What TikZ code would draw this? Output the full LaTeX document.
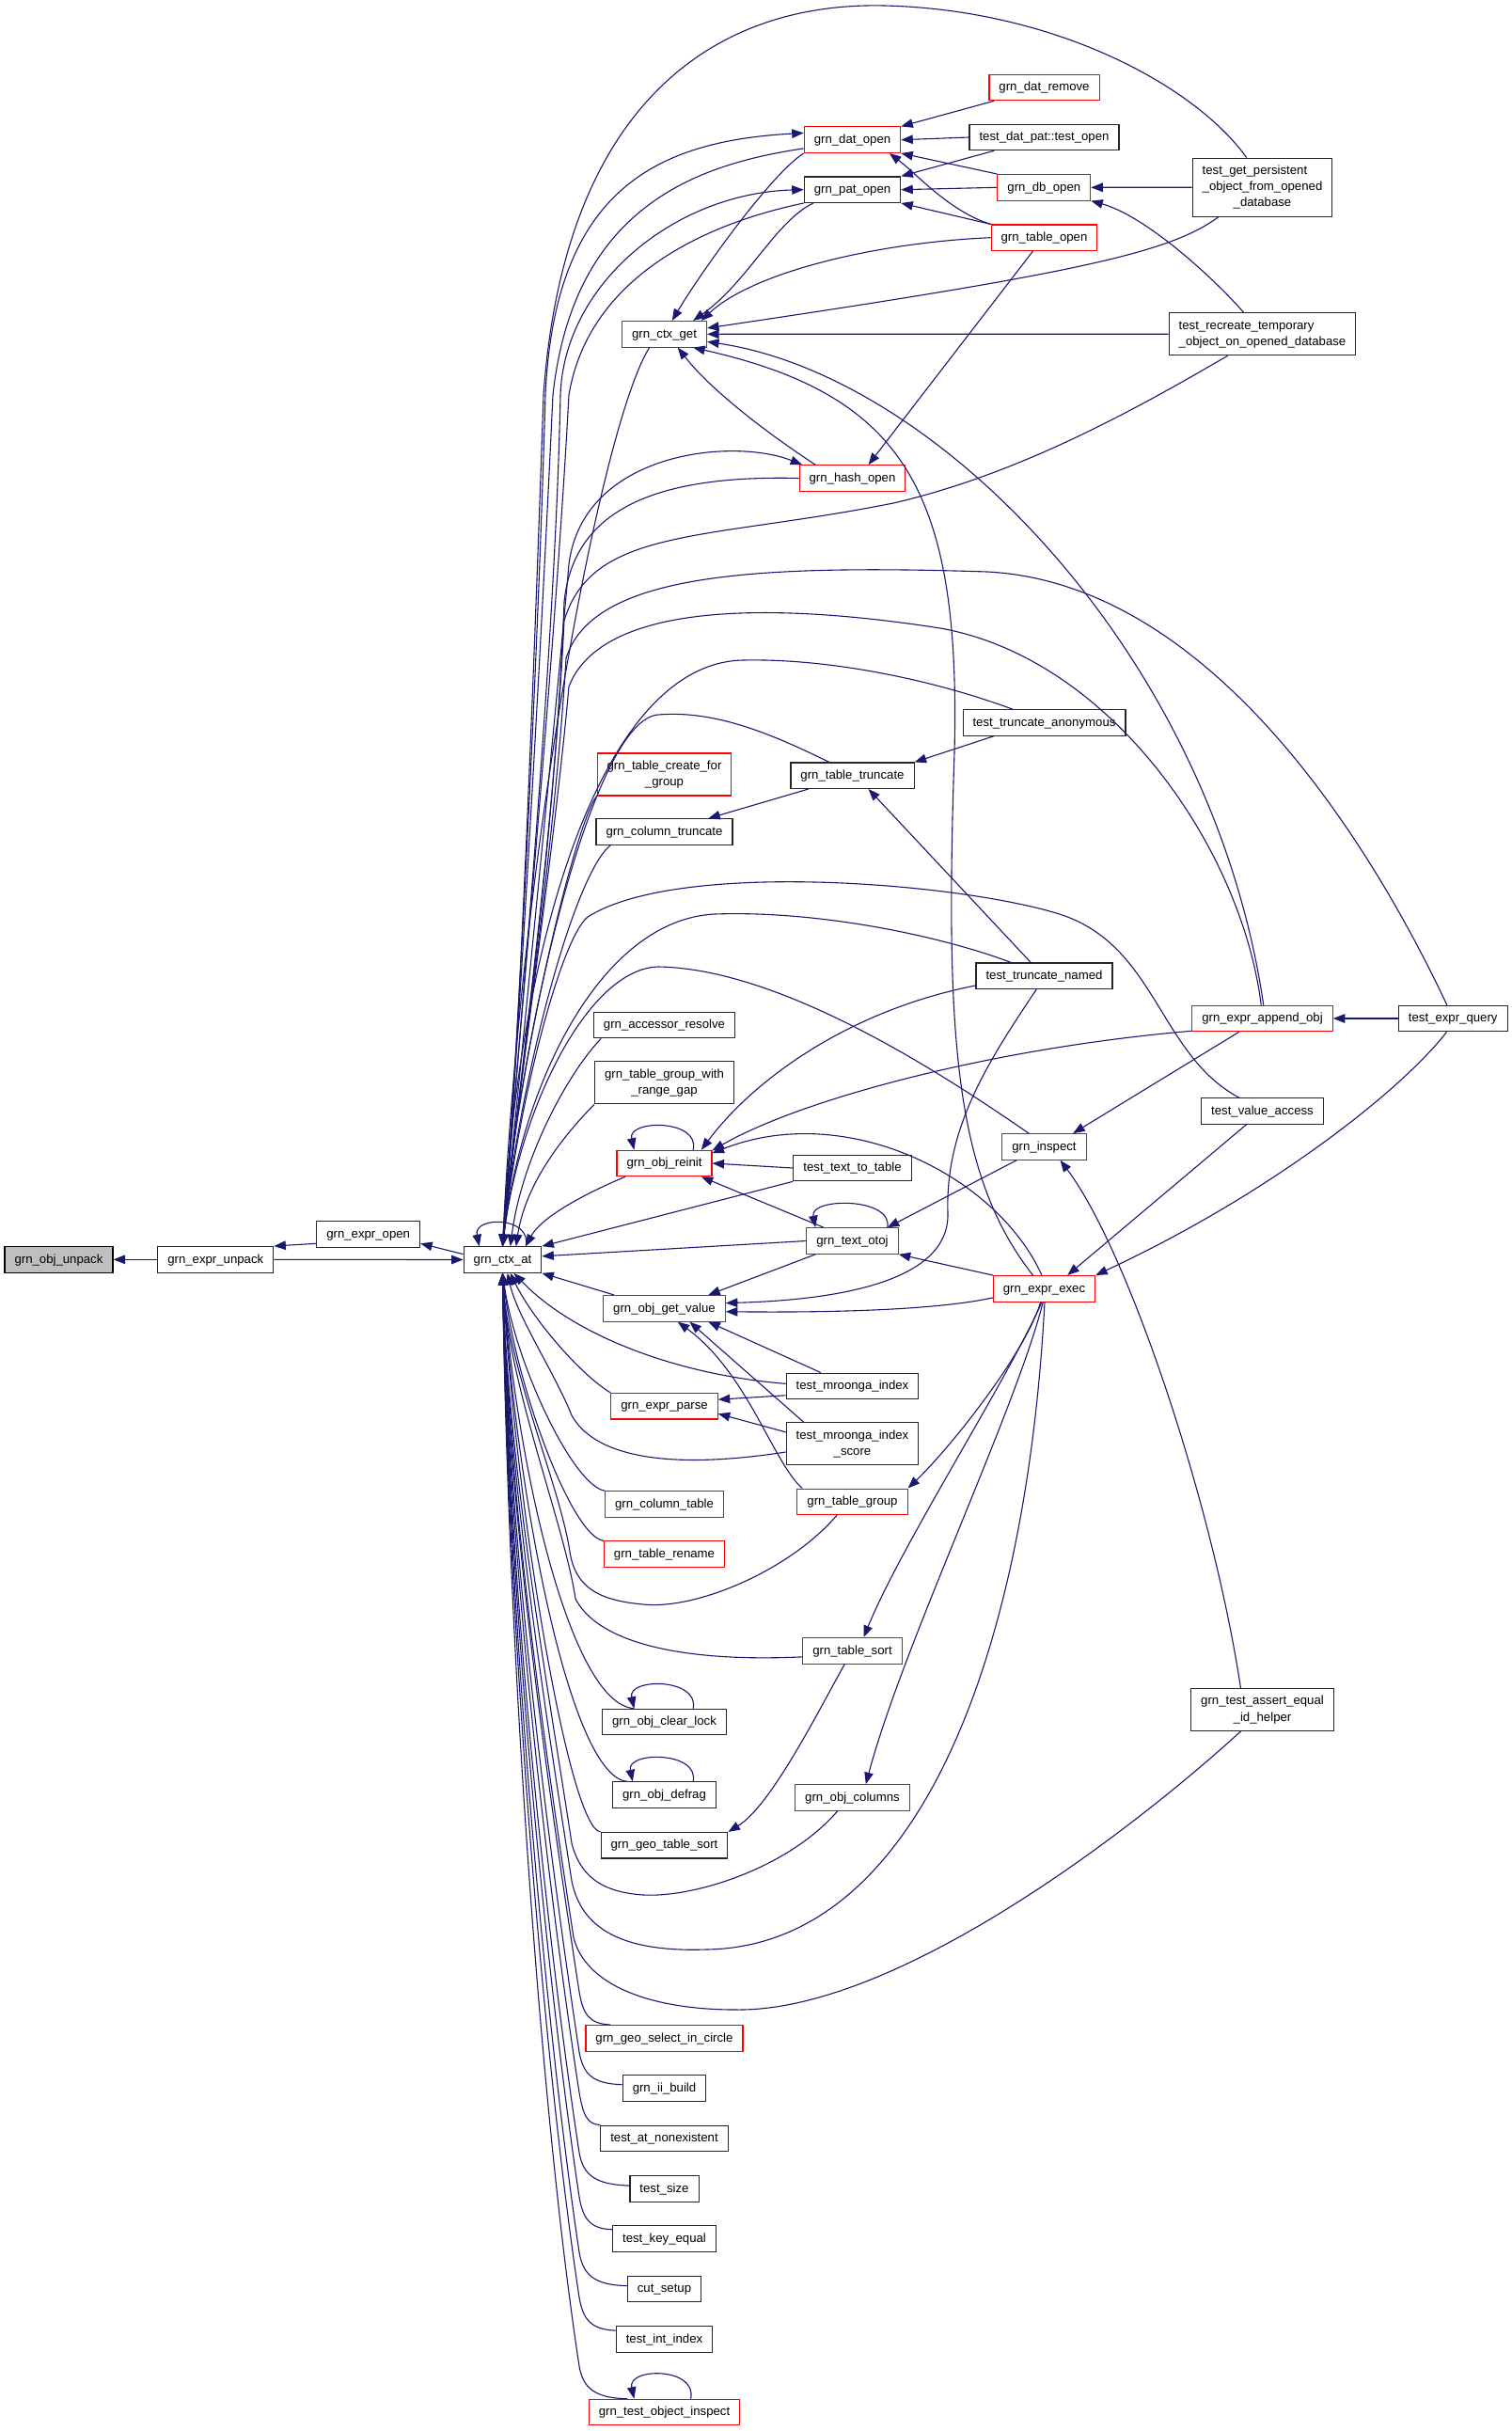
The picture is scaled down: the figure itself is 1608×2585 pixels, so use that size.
\documentclass[tikz,border=0pt]{standalone}
\usepackage{fontspec}
\setmainfont{Liberation Sans}
\usetikzlibrary{arrows.meta}
\definecolor{edgeblue}{RGB}{25,25,112}

\begin{document}
\begin{tikzpicture}[x=1pt, y=-1pt, color=edgeblue, line width=1.1pt,
    >={Triangle[length=12.5pt, width=9.5pt]},
    fn/.style={draw=black!85, fill=white, text=black, line width=1.1pt, inner xsep=10.5pt, inner ysep=0pt, minimum height=27.5pt, text height=10.5pt, text depth=3pt, font=\fontsize{13.2}{17.3}\selectfont},
    fnred/.style={fn, draw=red},
    fnm/.style={draw=black!85, fill=white, text=black, line width=1.1pt, inner xsep=10.5pt, inner ysep=5.2pt, font=\fontsize{13.2}{17.3}\selectfont},
    fnmred/.style={fnm, draw=red},
    fnroot/.style={fn, draw=black, fill=black!25}]
    \useasboundingbox (0,0) rectangle (1608,2585);
    \fill[white] (0,0) rectangle (1608,2585);

    \node[fnroot] (unpack) at (62.5, 1339.3) {grn\_obj\_unpack};
    \node[fn] (eunpack) at (229.3, 1339.3) {grn\_expr\_unpack};
    \node[fn] (eopen) at (391.7, 1312.5) {grn\_expr\_open};
    \node[fn] (ctxat) at (534.5, 1339.5) {grn\_ctx\_at};

    \node[fnred] (ctxget) at (706.5, 355.3) {grn\_ctx\_get};
    \node[fnmred] (crgroup) at (706.5, 823.5) {\begin{tabular}{@{}l@{}}grn\_table\_create\_for\\\multicolumn{1}{@{}c@{}}{\_group}\end{tabular}};
    \node[fn] (coltrunc) at (706.5, 884.6) {grn\_column\_truncate};
    \node[fn] (accres) at (706.5, 1090) {grn\_accessor\_resolve};
    \node[fnm] (grpgap) at (706.5, 1151.3) {\begin{tabular}{@{}l@{}}grn\_table\_group\_with\\\multicolumn{1}{@{}c@{}}{\_range\_gap}\end{tabular}};
    \node[fnred] (objreinit) at (706.5, 1237) {grn\_obj\_reinit};
    \node[fnred] (getvalue) at (706.5, 1391.3) {grn\_obj\_get\_value};
    \node[fnred] (exprparse) at (706.5, 1495.2) {grn\_expr\_parse};
    \node[fnred] (coltable) at (706.5, 1599.4) {grn\_column\_table};
    \node[fnred] (tblrename) at (706.5, 1652.6) {grn\_table\_rename};
    \node[fn] (clearlock) at (706.5, 1831) {grn\_obj\_clear\_lock};
    \node[fn] (defrag) at (706.5, 1908.6) {grn\_obj\_defrag};
    \node[fn] (geosort) at (706.5, 1962.2) {grn\_geo\_table\_sort};
    \node[fnred] (geocircle) at (706.5, 2167.3) {grn\_geo\_select\_in\_circle};
    \node[fn] (iibuild) at (706.5, 2220.5) {grn\_ii\_build};
    \node[fn] (atnonex) at (706.5, 2273.8) {test\_at\_nonexistent};
    \node[fn] (tsize) at (706.5, 2327.3) {test\_size};
    \node[fn] (keyequal) at (706.5, 2380.5) {test\_key\_equal};
    \node[fn] (cutsetup) at (706.5, 2434) {cut\_setup};
    \node[fn] (intindex) at (706.5, 2487.3) {test\_int\_index};
    \node[fnred] (objinspect) at (706.5, 2565) {grn\_test\_object\_inspect};

    \node[fnred] (datopen) at (906.5, 148.7) {grn\_dat\_open};
    \node[fn] (patopen) at (906.5, 201.7) {grn\_pat\_open};
    \node[fnred] (hashopen) at (906.5, 508.5) {grn\_hash\_open};
    \node[fn] (tbltrunc) at (906.5, 824.7) {grn\_table\_truncate};
    \node[fn] (txt2tbl) at (906.5, 1242) {test\_text\_to\_table};
    \node[fnred] (textotoj) at (906.5, 1319.5) {grn\_text\_otoj};
    \node[fn] (mindex) at (906.5, 1473.8) {test\_mroonga\_index};
    \node[fnm] (mscore) at (906.5, 1535.3) {\begin{tabular}{@{}l@{}}test\_mroonga\_index\\\multicolumn{1}{@{}c@{}}{\_score}\end{tabular}};
    \node[fnred] (tblgroup) at (906.5, 1596.8) {grn\_table\_group};
    \node[fnred] (tblsort) at (906.5, 1755.3) {grn\_table\_sort};
    \node[fnred] (objcolumns) at (906.5, 1911.5) {grn\_obj\_columns};

    \node[fnred] (datremove) at (1110.5, 93) {grn\_dat\_remove};
    \node[fn] (dpopen) at (1110.5, 146) {test\_dat\_pat::test\_open};
    \node[fnred] (dbopen) at (1110.3, 199.3) {grn\_db\_open};
    \node[fnred] (tblopen) at (1110.5, 252.7) {grn\_table\_open};
    \node[fn] (trunanon) at (1110.5, 768.4) {test\_truncate\_anonymous};
    \node[fn] (trunnamed) at (1110.5, 1037.7) {test\_truncate\_named};
    \node[fnred] (inspect) at (1110.5, 1219.4) {grn\_inspect};
    \node[fnred] (exprexec) at (1110.5, 1370.3) {grn\_expr\_exec};

    \node[fnm] (getpers) at (1342.5, 199.2) {\begin{tabular}{@{}l@{}}test\_get\_persistent\\\_object\_from\_opened\\\multicolumn{1}{@{}c@{}}{\_database}\end{tabular}};
    \node[fnm] (recreate) at (1342.5, 355.2) {\begin{tabular}{@{}l@{}}test\_recreate\_temporary\\\multicolumn{1}{@{}c@{}}{\_object\_on\_opened\_database}\end{tabular}};
    \node[fnred] (appendobj) at (1342.5, 1083) {grn\_expr\_append\_obj};
    \node[fn] (valaccess) at (1342.5, 1181.5) {test\_value\_access};
    \node[fnm] (helper) at (1342.5, 1818) {\begin{tabular}{@{}l@{}}grn\_test\_assert\_equal\\\multicolumn{1}{@{}c@{}}{\_id\_helper}\end{tabular}};
    \node[fn] (exprquery) at (1545.2, 1083) {test\_expr\_query};

    \draw[->] (eunpack) -- (unpack);
    \draw[->] (eopen.190) -- (eunpack.north east);
    \draw[->] (ctxat.172) -- (eopen.-10);
    \draw[->] (eunpack) -- (ctxat);
    \draw[->] (ctxat.30) .. controls (566,1293) and (503,1293) .. (ctxat.150);

    \draw[->] (getpers.118) .. controls (1270,90) and (1120,10) .. (940,6) .. controls (760,2) and (600,110) .. (578,420) .. controls (565,800) and (550,1150) .. (ctxat.north);
    \draw[->] (ctxat.north) .. controls (552,1100) and (572,700) .. (580,420) .. controls (590,200) and (700,150) .. (datopen.172);
    \draw[->] (datopen.190) .. controls (740,175) and (610,220) .. (588,420) .. controls (575,700) and (552,1100) .. (ctxat.north);
    \draw[->] (ctxat.north) .. controls (552,1100) and (590,700) .. (596,420) .. controls (600,300) and (720,205) .. (patopen.west);
    \draw[->] (patopen.south west) .. controls (740,240) and (625,300) .. (605,420) .. controls (590,700) and (552,1100) .. (ctxat.north);
    \draw[->] (ctxget.-138) .. controls (640,450) and (555,900) .. (ctxat.north);
    \draw[->] (hashopen.west) .. controls (700,505) and (610,540) .. (600,640) .. controls (590,900) and (552,1150) .. (ctxat.north);
    \draw[->] (ctxat.north) .. controls (552,1150) and (592,750) .. (605,600) .. controls (620,480) and (780,465) .. (hashopen.165);
    \draw[->] (recreate.-148) .. controls (1200,440) and (1080,505) .. (950,535) .. controls (750,575) and (630,560) .. (600,660) .. controls (588,900) and (552,1150) .. (ctxat.north);
    \draw[->] (exprquery.114) .. controls (1450,880) and (1280,620) .. (1050,608) .. controls (800,600) and (630,610) .. (602,700) .. controls (590,900) and (552,1150) .. (ctxat.north);
    \draw[->] (appendobj.95) .. controls (1320,900) and (1180,700) .. (1000,668) .. controls (820,640) and (640,640) .. (605,730) .. controls (590,900) and (552,1150) .. (ctxat.north);
    \draw[->] (trunanon.157) .. controls (990,722) and (880,700) .. (790,702) .. controls (640,705) and (552,1000) .. (ctxat.north);
    \draw[->] (tbltrunc.150) .. controls (820,780) and (760,755) .. (700,760) .. controls (630,765) and (553,1100) .. (ctxat.north);
    \draw[->] (crgroup.south west) .. controls (612,875) and (550,1130) .. (ctxat.north);
    \draw[->] (coltrunc.-166) .. controls (610,930) and (552,1150) .. (ctxat.north);
    \draw[->] (valaccess.150) .. controls (1230,1120) and (1230,1000) .. (1120,970) .. controls (1010,938) and (720,915) .. (625,975) .. controls (595,1000) and (550,1180) .. (ctxat.north);
    \draw[->] (trunnamed.158) .. controls (1000,995) and (870,968) .. (760,972) .. controls (640,978) and (555,1150) .. (ctxat.north);
    \draw[->] (inspect.139) .. controls (1000,1140) and (830,1030) .. (700,1028) .. controls (625,1030) and (552,1180) .. (ctxat.north);
    \draw[->] (accres.-168) .. controls (605,1140) and (555,1230) .. (ctxat.60);
    \draw[->] (grpgap.south west) .. controls (612,1195) and (560,1250) .. (ctxat.45);
    \draw[->] (objreinit.-161) .. controls (620,1270) and (575,1295) .. (ctxat.30);
    \draw[->] (txt2tbl.south west) -- (ctxat.north east);
    \draw[->] (textotoj.west) -- (ctxat.5);
    \draw[->] (getvalue.165) -- (ctxat.south east);

    \draw[->] (mindex.178) .. controls (720,1462) and (610,1420) .. (ctxat.-50);
    \draw[->] (exprparse.north west) .. controls (615,1460) and (565,1400) .. (ctxat.-60);
    \draw[->] (mscore.187) .. controls (700,1565) and (630,1545) .. (608,1505) .. controls (590,1460) and (550,1400) .. (ctxat.-70);
    \draw[->] (coltable.north west) .. controls (610,1580) and (548,1451) .. (ctxat.south);
    \draw[->] (tblrename.north west) .. controls (608,1634) and (548,1473) .. (ctxat.south);
    \draw[->] (tblgroup.-139) .. controls (840,1670) and (740,1712) .. (684,1706) .. controls (640,1702) and (612,1690) .. (606,1650) .. controls (596,1582) and (540,1454) .. (ctxat.south);
    \draw[->] (tblsort.187) .. controls (720,1768) and (635,1745) .. (612,1700) .. controls (600,1620) and (540,1471) .. (ctxat.south);
    \draw[->] (clearlock.156) .. controls (605,1812) and (548,1548) .. (ctxat.south);
    \draw[->] (defrag.160) .. controls (605,1890) and (548,1580) .. (ctxat.south);
    \draw[->] (geosort.north west) .. controls (605,1944) and (548,1603) .. (ctxat.south);
    \draw[->] (objcolumns.-138) .. controls (840,1985) and (740,2018) .. (684,2015) .. controls (640,2012) and (617,1995) .. (608,1960) .. controls (587,1820) and (540,1559) .. (ctxat.south);
    \draw[->] (exprexec.-88) .. controls (1092,1750) and (980,2070) .. (751,2073) .. controls (660,2076) and (618,2050) .. (608,2000) .. controls (585,1851) and (540,1573) .. (ctxat.south);
    \draw[->] (helper.-135) .. controls (1200,1950) and (950,2140) .. (782,2137) .. controls (690,2137) and (622,2110) .. (610,2060) .. controls (585,1897) and (540,1593) .. (ctxat.south);
    \draw[->] (geocircle.166) .. controls (626,2152) and (620,2141) .. (616,2118) .. controls (589,1942) and (540,1613) .. (ctxat.south);
    \draw[->] (iibuild.175) .. controls (630,2216) and (620,2205) .. (616,2182) .. controls (587,1991) and (540,1635) .. (ctxat.south);
    \draw[->] (atnonex.north west) .. controls (624,2259) and (620,2248) .. (616,2225) .. controls (585,2024) and (540,1650) .. (ctxat.south);
    \draw[->] (tsize.175) .. controls (632,2323) and (620,2312) .. (616,2289) .. controls (583,2074) and (540,1671) .. (ctxat.south);
    \draw[->] (keyequal.170) .. controls (627,2370) and (620,2359) .. (616,2336) .. controls (582,2110) and (540,1687) .. (ctxat.south);
    \draw[->] (cutsetup.175) .. controls (631,2430) and (620,2418) .. (616,2395) .. controls (580,2155) and (540,1707) .. (ctxat.south);
    \draw[->] (intindex.170) .. controls (628,2477) and (620,2466) .. (616,2443) .. controls (578,2192) and (540,1724) .. (ctxat.south);
    \draw[->] (objinspect.160) .. controls (632,2550) and (620,2539) .. (616,2516) .. controls (575,2249) and (540,1748) .. (ctxat.south);

    \draw[->] (datremove.195) -- (datopen.north east);
    \draw[->] (dpopen.west) -- (datopen.east);
    \draw[->] (dbopen.north west) -- (datopen.south east);
    \draw[->] (tblopen.north west) .. controls (1010,225) and (975,185) .. (datopen.-20);
    \draw[->] (dpopen.-165) -- (patopen.north east);
    \draw[->] (dbopen.west) -- (patopen.east);
    \draw[->] (tblopen.north west) -- (patopen.south east);
    \draw[->] (getpers.west) -- (dbopen.east);
    \draw[->] (recreate.131) .. controls (1295,300) and (1220,230) .. (dbopen.south east);
    \draw[->] (datopen.south west) .. controls (820,185) and (745,290) .. (ctxget.60);
    \draw[->] (patopen.-161) .. controls (825,235) and (795,300) .. (ctxget.25);
    \draw[->] (tblopen.west) .. controls (930,258) and (800,290) .. (ctxget.20);
    \draw[->] (getpers.214) .. controls (1245,268) and (1150,290) .. (ctxget.8);
    \draw[->] (recreate.west) -- (ctxget.east);
    \draw[->] (appendobj.85) .. controls (1290,700) and (1000,400) .. (ctxget.-10);
    \draw[->] (exprexec.130) .. controls (1015,1250) and (1005,1100) .. (1015,800) .. controls (1022,520) and (960,420) .. (ctxget.-25);
    \draw[->] (hashopen.160) .. controls (830,470) and (760,420) .. (ctxget.-45);
    \draw[->] (tblopen.-130) -- (hashopen.40);

    \draw[->] (trunanon.-165) -- (tbltrunc.north east);
    \draw[->] (trunnamed.135) -- (tbltrunc.-40);
    \draw[->] (tbltrunc.-163) -- (coltrunc.17);
    \draw[->] (exprquery) -- (appendobj);
    \draw[->] (exprquery.-115) .. controls (1490,1160) and (1350,1270) .. (exprexec.north east);
    \draw[->] (valaccess.-140) -- (exprexec.30);
    \draw[->] (appendobj.-150) -- (inspect.25);
    \draw[->] (helper.135) .. controls (1290,1600) and (1200,1330) .. (inspect.-40);
    \draw[->] (trunnamed.188) .. controls (900,1075) and (800,1150) .. (objreinit.20);
    \draw[->] (appendobj.190) .. controls (1050,1115) and (850,1170) .. (objreinit.15);
    \draw[->] (exprexec.100) .. controls (1060,1250) and (900,1170) .. (objreinit.12);
    \draw[->] (txt2tbl.west) -- (objreinit.east);
    \draw[->] (textotoj.155) -- (objreinit.-20);
    \draw[->] (objreinit.25) .. controls (745,1190) and (667,1190) .. (objreinit.156);
    \draw[->] (inspect.-154) -- (textotoj.21);
    \draw[->] (exprexec.north west) -- (textotoj.south east);
    \draw[->] (textotoj.21) .. controls (950,1273) and (861,1273) .. (textotoj.160);
    \draw[->] (textotoj.-160) -- (getvalue.17);
    \draw[->] (exprexec.190) .. controls (1000,1392) and (900,1396) .. (getvalue.-3);
    \draw[->] (trunnamed.-120) .. controls (1050,1130) and (1005,1200) .. (1008,1290) .. controls (1010,1360) and (900,1382) .. (getvalue.5);
    \draw[->] (mindex.157) -- (getvalue.-17);
    \draw[->] (mscore.156) -- (getvalue.-28);
    \draw[->] (tblgroup.165) .. controls (822,1555) and (795,1460) .. (getvalue.-45);
    \draw[->] (mindex.188) -- (exprparse.7);
    \draw[->] (mscore.170) -- (exprparse.-8);
    \draw[->] (exprexec.-105) .. controls (1090,1440) and (1010,1540) .. (tblgroup.north east);
    \draw[->] (exprexec.-100) .. controls (1070,1470) and (960,1640) .. (tblsort.50);
    \draw[->] (tblsort.-120) .. controls (870,1820) and (820,1920) .. (geosort.north east);
    \draw[->] (exprexec.-95) .. controls (1080,1500) and (960,1750) .. (objcolumns.45);
    \draw[->] (clearlock.25) .. controls (744,1784) and (667,1784) .. (clearlock.156);
    \draw[->] (defrag.25) .. controls (744,1862) and (666,1862) .. (defrag.157);
    \draw[->] (objinspect.27) .. controls (742,2517) and (667,2517) .. (objinspect.156);
\end{tikzpicture}
\end{document}
